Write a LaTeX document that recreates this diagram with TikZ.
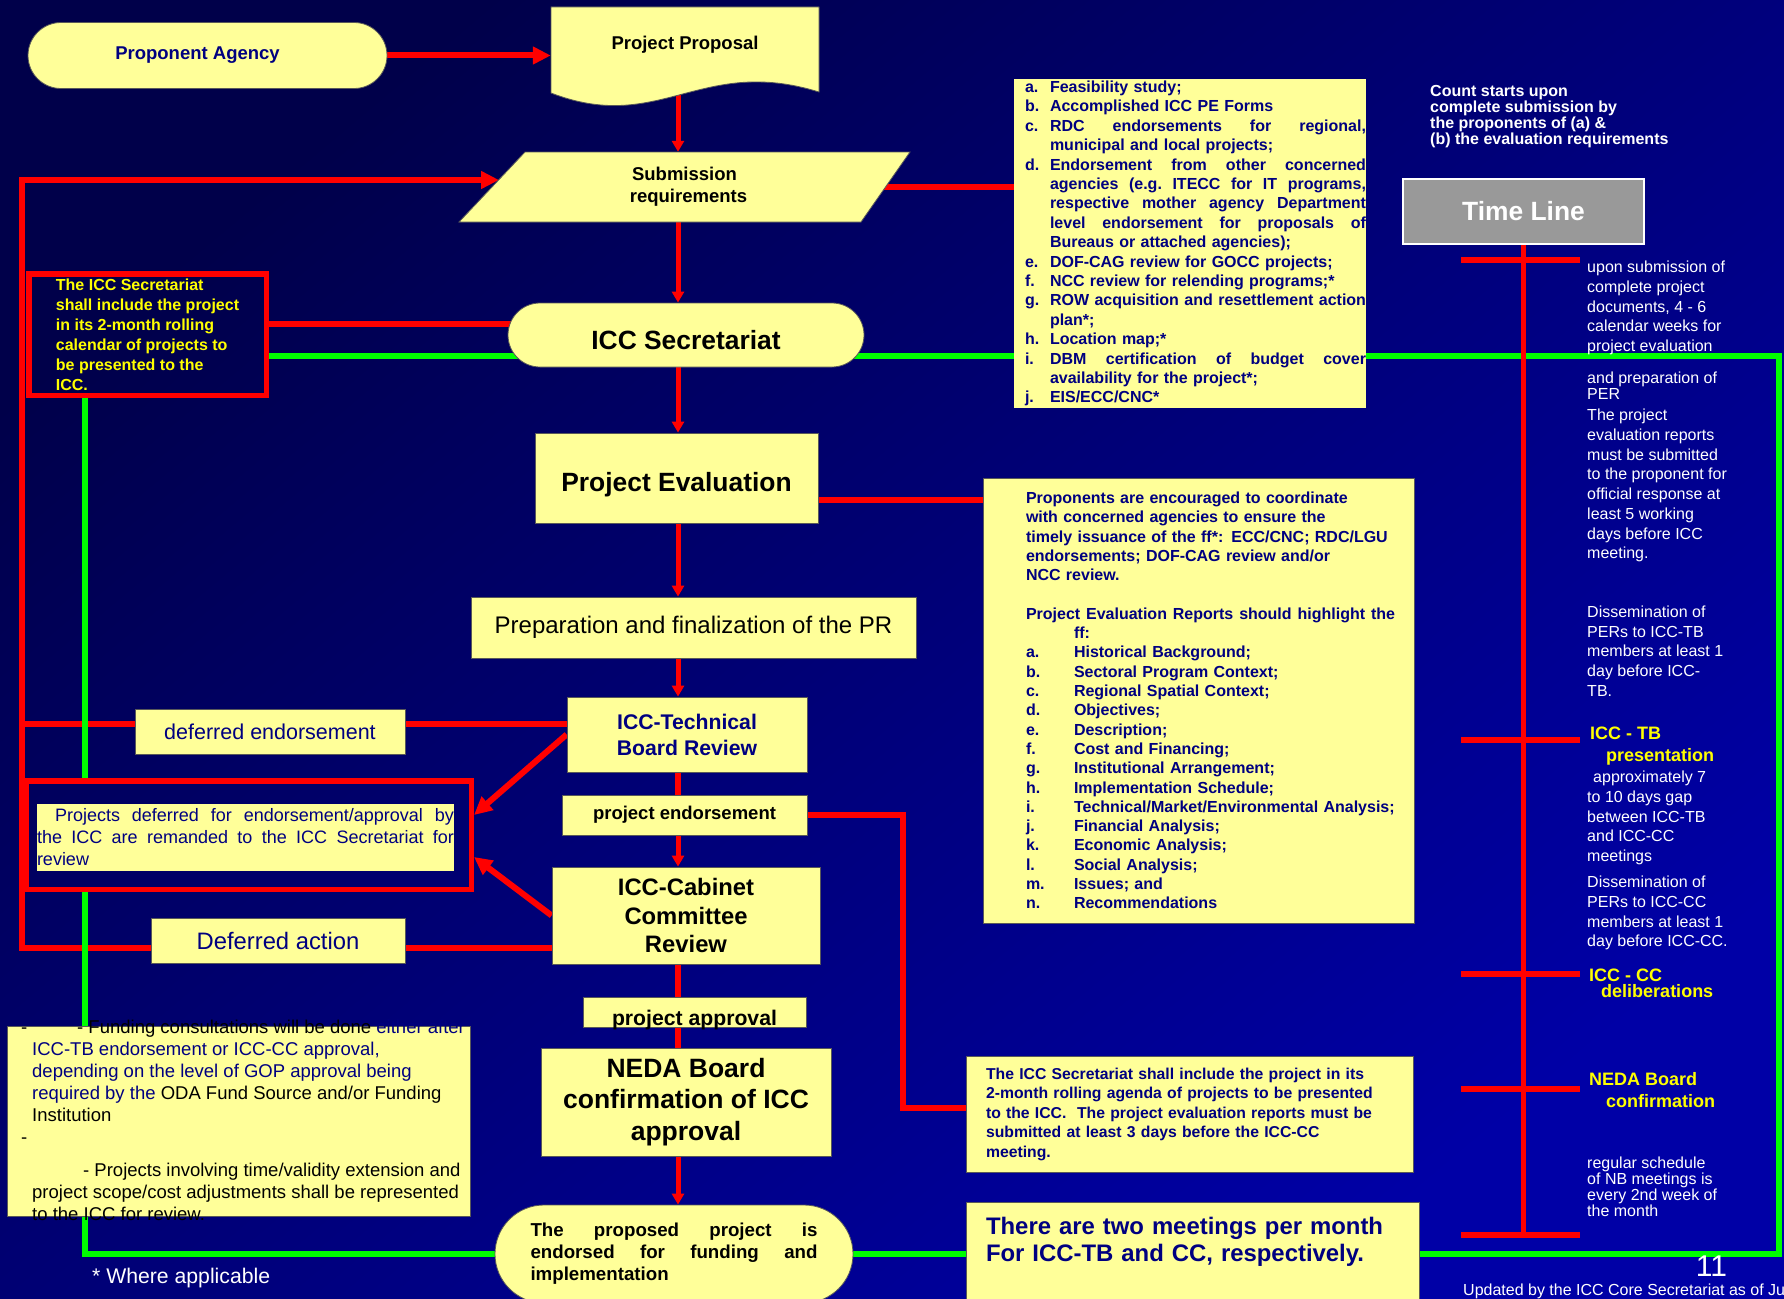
\documentclass[tikz,border=0pt]{standalone}
\usepackage{fontspec}
\setmainfont{Liberation Sans}
\usetikzlibrary{arrows.meta, positioning, calc, shapes.misc, backgrounds}
\definecolor{slideyel}{HTML}{FFFF99}
\definecolor{slidenavy}{HTML}{000080}
\definecolor{linered}{HTML}{FF0000}
\definecolor{linegreen}{HTML}{00FF00}
\definecolor{tagyel}{HTML}{FFFF00}
\definecolor{tlgray}{HTML}{999999}
\definecolor{bgdark}{HTML}{00004A}
\definecolor{bgblue}{HTML}{0000A6}
\newcommand{\fsz}[2]{\fontsize{#1}{#2}\selectfont}
\newcommand{\jline}[2]{\leavevmode\hbox to #1pt{\frenchspacing\spaceskip=0.278em plus 1fil\relax #2}}
\newcommand{\lsti}[2]{\hspace*{11pt}\makebox[25pt][l]{#1}#2}
\newcommand{\cmti}[2]{\hspace*{43pt}\makebox[48pt][l]{#1}#2}
\newcommand{\lowr}[2]{\raisebox{-#1pt}[\height][\depth]{#2}}
\setlength{\parindent}{0pt}

\begin{document}
\begin{tikzpicture}[x=1pt, y=-1pt,
    sz/.style 2 args={minimum width=#1pt, minimum height=#2pt},
    ybox/.style={draw=black!65, line width=0.8pt, fill=slideyel, inner sep=0pt, align=center},
    pill/.style={ybox, rounded rectangle},
    redbox/.style={draw=linered, line width=5.5pt, inner sep=0pt},
    redl/.style={draw=linered, line width=5.5pt},
    grnl/.style={draw=linegreen, line width=5.5pt},
    varr/.style={draw=linered, line width=5pt, -{Triangle[length=11pt, width=12pt]}},
    barr/.style={draw=linered, line width=6pt, -{Triangle[length=18pt, width=17pt]}},
    wtxt/.style={text=white, font=\fsz{16}{19.7}, align=left, inner sep=0pt, anchor=north west},
    ytag/.style={text=tagyel, font=\fsz{18}{22}\bfseries, align=left, inner sep=0pt, anchor=north west},
]
\useasboundingbox (0,0) rectangle (1784,1298);
\begin{scope}[on background layer]
  \shade[top color=bgdark, bottom color=bgblue, shading angle=40] (0,0) rectangle (1784,1298);
\end{scope}

\coordinate (axis) at (678,0);
\coordinate (lt) at (22,180);
\coordinate (lb) at (22,948);
\coordinate (ld) at (22,724);
\coordinate (rc) at (22,324);
\coordinate (sin) at (499,180);
\coordinate (pe) at (0,500);
\coordinate (rt) at (903,1108);
\coordinate (gne) at (1779,356);
\coordinate (gse) at (1779,1254);
\coordinate (gsw) at (85,1254);
\coordinate (tlb) at (0,1235);

\node[pill, sz={359}{66}, text=slidenavy, font=\fsz{18.5}{22}\bfseries] (pa) at (207.5,55.5) {Proponent Agency\hspace*{20pt}};
\filldraw[fill=slideyel, draw=black!65, line width=0.8pt] (551,7) -- (819,7) -- (819,92) .. controls (700,55) and (660,135) .. (551,93) -- cycle;
\node[sz={268}{76}, font=\fsz{18.5}{22}\bfseries] (prop) at (685,45) {Project Proposal};
\filldraw[fill=slideyel, draw=black!65, line width=0.8pt] (459,222) -- (525,152) -- (910,152) -- (861,222) -- cycle;
\node[sz={451}{70}, align=center, font=\fsz{18.5}{22}\bfseries] (subm) at (684.5,187) {Submission\\\hspace*{8pt}requirements};
\node[pill, sz={356}{64}, font=\fsz{26.4}{31}\bfseries] (icc) at (686,335) {\lowr{5}{ICC Secretariat}};

\node[ybox, draw=none, sz={352}{329}, text width=352pt, align=left, text=slidenavy, font=\fsz{16}{19.4}\bfseries] (lst) at (1190,243.5) {%
\lsti{a.}{Feasibility study;}\\
\lsti{b.}{Accomplished ICC PE Forms}\\
\lsti{c.}{\jline{316}{RDC endorsements for regional,}}\\
\lsti{}{municipal and local projects;}\\
\lsti{d.}{\jline{316}{Endorsement from other concerned}}\\
\lsti{}{\jline{316}{agencies (e.g. ITECC for IT programs,}}\\
\lsti{}{\jline{316}{respective mother agency Department}}\\
\lsti{}{\jline{316}{level endorsement for proposals of}}\\
\lsti{}{Bureaus or attached agencies);}\\
\lsti{e.}{DOF-CAG review for GOCC projects;}\\
\lsti{f.}{NCC review for relending programs;*}\\
\lsti{g.}{\jline{316}{ROW acquisition and resettlement action}}\\
\lsti{}{plan*;}\\
\lsti{h.}{Location map;*}\\
\lsti{i.}{\jline{316}{DBM certification of budget cover}}\\
\lsti{}{availability for the project*;}\\
\lsti{j.}{EIS/ECC/CNC*}};
\node[wtxt, font=\fsz{16}{16}\bfseries] (cnt) at (1430,85) {Count starts upon\\complete submission by\\the proponents of (a) \&\\(b) the evaluation requirements};
\node[draw=white, line width=2pt, fill=tlgray, sz={241}{65}, text=white, font=\fsz{26.4}{31}\bfseries] (tl) at (1523.5,211.5) {Time Line};

\node[redbox, sz={237.5}{121.5}, align=left, text=tagyel, font=\fsz{16}{20}\bfseries] (cal) at (147.5,334.5) {The ICC Secretariat\\shall include the project\\in its 2-month rolling\\calendar of projects to\\be presented to the\\ICC.};

\node[ybox, sz={283}{90}, font=\fsz{26.4}{31}\bfseries] (peval) at (676.5,478) {\lowr{7}{Project Evaluation}};
\node[ybox, sz={431}{445}, text width=431pt, align=left, text=slidenavy, font=\fsz{16}{19.3}\bfseries] (cmt) at (1198.5,700.5) {%
\hspace*{43pt}Proponents are encouraged to coordinate\\
\hspace*{43pt}with concerned agencies to ensure the\\
\hspace*{43pt}timely issuance of the ff*: ECC/CNC; RDC/LGU\\
\hspace*{43pt}endorsements; DOF-CAG review and/or\\
\hspace*{43pt}NCC review.\\
\mbox{}\\
\hspace*{43pt}\jline{369}{Project Evaluation Reports should highlight the}\\
\hspace*{91pt}ff:\\
\cmti{a.}{Historical Background;}\\
\cmti{b.}{Sectoral Program Context;}\\
\cmti{c.}{Regional Spatial Context;}\\
\cmti{d.}{Objectives;}\\
\cmti{e.}{Description;}\\
\cmti{f.}{Cost and Financing;}\\
\cmti{g.}{Institutional Arrangement;}\\
\cmti{h.}{Implementation Schedule;}\\
\cmti{i.}{Technical/Market/Environmental Analysis;}\\
\cmti{j.}{Financial Analysis;}\\
\cmti{k.}{Economic Analysis;}\\
\cmti{l.}{Social Analysis;}\\
\cmti{m.}{Issues; and}\\
\cmti{n.}{Recommendations}};
\node[ybox, sz={445}{61}, font=\fsz{24}{28}] (prep) at (693.5,627.5) {Preparation and finalization of the PR};
\node[ybox, sz={240}{75}, text=slidenavy, font=\fsz{21.2}{26}\bfseries] (tb) at (687,734.5) {ICC-Technical\\Board Review};
\node[ybox, sz={270}{45}, text=slidenavy, font=\fsz{21.5}{25}] (defe) at (270,731.5) {deferred endorsement};
\node[ybox, sz={245}{40}, font=\fsz{18.5}{22}\bfseries] (endo) at (684.5,815) {project endorsement};
\node[redbox, sz={445.5}{108.5}] (remand) at (248.5,835) {};
\node[ybox, draw=none, sz={417}{67}, text width=417pt, align=left, text=slidenavy, font=\fsz{18}{22}] (remtxt) at (245.5,837.5) {%
\hspace*{18pt}\jline{399}{Projects deferred for endorsement/approval by}\\
\jline{417}{the ICC are remanded to the ICC Secretariat for}\\
review};
\node[ybox, sz={268}{97}, font=\fsz{23.8}{28.5}\bfseries] (cc) at (686,915.5) {ICC-Cabinet\\Committee\\Review};
\node[ybox, sz={254}{45}, text=slidenavy, font=\fsz{23.8}{28}] (defa) at (278,940.5) {Deferred action};
\node[ybox, sz={223}{30}, text height=28pt, text depth=2pt, font=\fsz{21.2}{25}\bfseries] (appr) at (694.5,1012) {project approval};
\node[ybox, sz={290}{108}, font=\fsz{26.5}{31.5}\bfseries] (neda) at (686,1102) {NEDA Board\\confirmation of ICC\\approval};
\node[pill, sz={358}{98}, align=left, font=\fsz{18.7}{22}\bfseries] (fin) at (674,1254) {\jline{287}{The proposed project is}\\\jline{287}{endorsed for funding and}\\implementation};
\node[ybox, sz={447}{116}, inner xsep=20pt, text width=407pt, align=left, text=slidenavy, font=\fsz{15.75}{19.5}\bfseries] (necm) at (1189.5,1114) {The ICC Secretariat shall include the project in its\\2-month rolling agenda of projects to be presented\\to the ICC.\ \ The project evaluation reports must be\\submitted at least 3 days before the ICC-CC\\meeting.};
\node[ybox, sz={453}{128}, inner xsep=20pt, text width=413pt, align=left, text=slidenavy, font=\fsz{23.9}{27}\bfseries] (meet) at (1192.5,1266) {There are two meetings per month\\For ICC-TB and CC, respectively.\\\mbox{}\\\mbox{}};

\node[ybox, sz={463}{190}] (fundbox) at (238.5,1121) {};
\node[inner sep=0pt, anchor=north west, align=left, font=\fsz{18.5}{22}] (fundtxt) at (21,1020) {%
\makebox[56pt][l]{-}- Funding consultations will be done \textcolor{slidenavy}{either after}\\
\hspace*{11pt}\textcolor{slidenavy}{ICC-TB endorsement or ICC-CC approval,}\\
\hspace*{11pt}\textcolor{slidenavy}{depending on the level of GOP approval being}\\
\hspace*{11pt}\textcolor{slidenavy}{required by the} ODA Fund Source and/or Funding\\
\hspace*{11pt}Institution\\
-\\[11pt]
\hspace*{62pt}- Projects involving time/validity extension and\\
\hspace*{11pt}project scope/cost adjustments shall be represented\\
\hspace*{11pt}to the ICC for review.};
\node[text=white, font=\fsz{21.2}{25}, anchor=west, inner sep=0pt] (note) at (92,1278) {* Where applicable};
\node[text=white, font=\fsz{30}{34}, inner sep=0pt] (pgno) at (1711.5,1266) {11};
\node[text=white, font=\fsz{16}{19}, anchor=west, inner sep=0pt] (upd) at (1463,1291) {Updated by the ICC Core Secretariat as of Ju};

\node[wtxt] (tx1) at (1587,261) {upon submission of\\complete project\\documents, 4 - 6\\calendar weeks for\\project evaluation};
\node[wtxt] (tx2) at (1587,372) {and preparation of\\[-3.7pt]PER\\[1.3pt]The project\\evaluation reports\\must be submitted\\to the proponent for\\official response at\\least 5 working\\days before ICC\\meeting.};
\node[wtxt] (tx3) at (1587,605.5) {Dissemination of\\PERs to ICC-TB\\members at least 1\\day before ICC-\\TB.};
\node[ytag] (tbtag) at (1590,727) {ICC - TB\\\hspace*{16pt}presentation};
\node[wtxt] (tx4) at (1587,771) {\hspace*{6pt}approximately 7\\to 10 days gap\\between ICC-TB\\and ICC-CC\\meetings};
\node[wtxt] (tx5) at (1587,876) {Dissemination of\\PERs to ICC-CC\\members at least 1\\day before ICC-CC.};
\node[ytag, font=\fsz{18}{16}\bfseries] (cctag) at (1589,969) {ICC - CC\\\hspace*{12pt}deliberations};
\node[ytag] (nbtag) at (1589,1072) {NEDA Board\\\hspace*{17pt}confirmation};
\node[wtxt, font=\fsz{16}{16}] (tx6) at (1587,1157) {regular schedule\\of NB meetings is\\every 2nd week of\\the month};

\draw[redl] (tl.south) -- (tl.south |- tlb);
\foreach \ty in {260,740,974,1089,1235}{
  \draw[redl] (1461,\ty) -- (1580,\ty);
}

\begin{scope}[on background layer]
\foreach \a/\b in {prop/subm,subm/icc,icc/peval,peval/prep,prep/tb,endo/cc,neda/fin}{
  \draw[varr] (\a.south -| axis) -- (\b.north -| axis);
}
\foreach \a/\b in {tb/endo,cc/appr,appr/neda}{
  \draw[redl] (\a.south -| axis) -- (\b.north -| axis);
}
\draw[barr] (pa.east) -- (pa.east -| prop.west);
\draw[barr] (cc.west |- lb) -- (lb) -- (lt) -- (sin);
\draw[redl] (tb.west |- ld) -- (ld);
\draw[redl] (cal.east |- rc) -- (rc -| icc.center);
\draw[redl] (subm.center) -- (subm.center -| lst.west);
\draw[redl] (peval.east |- pe) -- (cmt.west |- pe);
\draw[redl] (endo.east) -| (rt) -- (rt -| necm.west);
\draw[barr] (tb.west) -- ($(remand.east)+(0,-20)$);
\draw[barr] (cc.west) -- ($(remand.east)+(0,22)$);
\draw[grnl] (cal.east |- gne) -- (gne) -- (gse) -- (fin.center);
\draw[grnl] (cal.south -| gsw) -- (remand.north -| gsw);
\draw[grnl] (remand.south -| gsw) -- (gsw) -- (fin.center);
\end{scope}
\end{tikzpicture}
\end{document}
